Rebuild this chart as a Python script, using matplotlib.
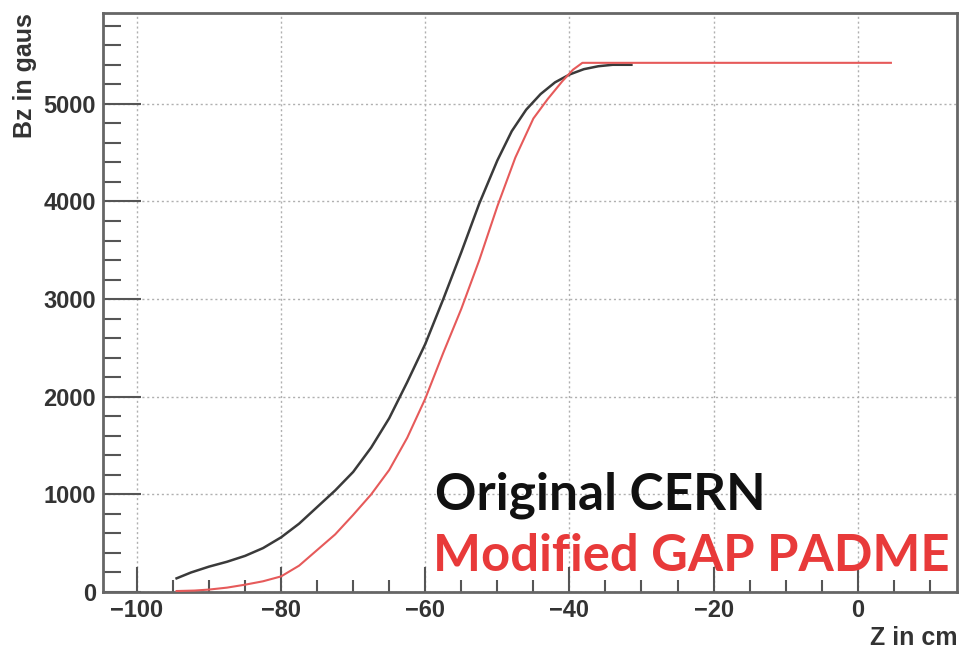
import matplotlib
matplotlib.use("Agg")
import matplotlib.pyplot as plt
from matplotlib.ticker import MultipleLocator

# Original CERN field map
z_cern = [-94.5, -92.5, -90, -87.5, -85, -82.5, -80, -77.5, -75, -72.5, -70,
          -67.5, -65, -62.5, -60, -57.5, -55, -52.5, -50, -48, -46, -44,
          -42, -40, -38, -36, -34, -31.4]
bz_cern = [140, 200, 260, 310, 370, 450, 560, 700, 870, 1040, 1230,
           1480, 1780, 2150, 2540, 3000, 3480, 3980, 4420, 4720, 4940, 5100,
           5220, 5300, 5355, 5385, 5400, 5400]

# Modified GAP PADME field map
z_padme = [-94.5, -92, -90, -87.5, -85, -82.5, -80, -77.5, -75, -72.5, -70,
           -67.5, -65, -62.5, -60, -57.5, -55, -52.5, -50, -47.5, -45, -43,
           -41, -39.5, -38.2, 4.6]
bz_padme = [10, 15, 25, 45, 75, 110, 160, 270, 430, 590, 790,
            1000, 1250, 1580, 1980, 2450, 2900, 3400, 3950, 4450, 4850, 5050,
            5230, 5350, 5420, 5420]

fig = plt.figure(figsize=(9.63, 6.52), dpi=100)
ax = fig.add_axes([0.107, 0.092, 0.887, 0.888])

ax.plot(z_cern, bz_cern, color="#3a3a3a", lw=1.8, zorder=3)
ax.plot(z_padme, bz_padme, color="#e65a5a", lw=1.5, zorder=3)

ax.set_xlim(-104.7, 13.8)
ax.set_ylim(0, 5930)
ax.xaxis.set_major_locator(MultipleLocator(20))
ax.xaxis.set_minor_locator(MultipleLocator(5))
ax.yaxis.set_major_locator(MultipleLocator(1000))
ax.yaxis.set_minor_locator(MultipleLocator(200))

ax.grid(True, which="major", linestyle=(0, (1.5, 2)), color="#b0b0b0", lw=1)
ax.tick_params(which="major", direction="in", length=18, width=1.5, color="#555555",
               labelsize=17, top=False, right=False, pad=5)
ax.tick_params(which="minor", direction="in", length=9, width=1.5, color="#555555",
               top=False, right=False)
ax.tick_params(axis="y", which="major", length=27)
ax.tick_params(axis="y", which="minor", length=13)
for lab in ax.get_xticklabels() + ax.get_yticklabels():
    lab.set_fontweight("bold")
    lab.set_color("#333333")
    lab.set_family("Liberation Sans")
for sp in ax.spines.values():
    sp.set_color("#666666")
    sp.set_linewidth(2)

fig.text(0.994, 0.022, "Z in cm", ha="right", va="center", fontsize=18,
         fontweight="bold", family="Liberation Sans", color="#333333")
fig.text(0.026, 0.98, "Bz in gaus", ha="center", va="top", rotation=90,
         fontsize=18, fontweight="bold", family="Liberation Sans", color="#333333")

ax.text(-58.7, 850, "Original CERN", fontsize=37, fontweight="bold",
        family="Lato", color="#111111", ha="left", va="baseline", zorder=4)
ax.text(-58.9, 215, "Modified GAP PADME", fontsize=36.5, fontweight="bold",
        family="Lato", color="#e83a3a", ha="left", va="baseline", zorder=4,
        clip_on=False)

fig.savefig("out.png", dpi=100)
